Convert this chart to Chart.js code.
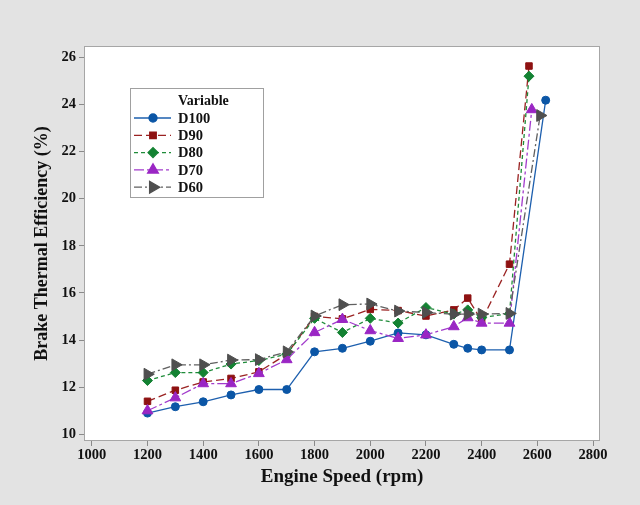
<!DOCTYPE html>
<html>
<head>
<meta charset="utf-8">
<script src="https://cdn.jsdelivr.net/npm/chart.js@4.4.1/dist/chart.umd.min.js"></script>
<style>
  html, body { margin: 0; padding: 0; background: #e3e3e3; }
  #wrap { width: 640px; height: 505px; }
</style>
</head>
<body>
<div id="wrap"><canvas id="bteChart" width="640" height="505"></canvas></div>
<script>
// engine speed (rpm) for each series
const speedsD100 = [1200, 1300, 1400, 1500, 1600, 1700, 1800, 1900, 2000, 2100, 2200, 2300, 2350, 2400, 2500, 2630];
const speedsD90  = [1200, 1300, 1400, 1500, 1600, 1700, 1800, 1900, 2000, 2100, 2200, 2300, 2350, 2400, 2500, 2570];
const speedsD80  = [1200, 1300, 1400, 1500, 1600, 1700, 1800, 1900, 2000, 2100, 2200, 2300, 2350, 2400, 2500, 2570];
const speedsD70  = [1200, 1300, 1400, 1500, 1600, 1700, 1800, 1900, 2000, 2100, 2200, 2300, 2350, 2400, 2500, 2580];
const speedsD60  = [1200, 1300, 1400, 1500, 1600, 1700, 1800, 1900, 2000, 2100, 2200, 2300, 2350, 2400, 2500, 2610];

// brake thermal efficiency (%)
const bteD100 = [10.9, 11.17, 11.38, 11.67, 11.9, 11.9, 13.5, 13.65, 13.95, 14.3, 14.22, 13.82, 13.65, 13.58, 13.58, 24.18];
const bteD90  = [11.4, 11.87, 12.22, 12.37, 12.65, 13.4, 15.0, 14.9, 15.3, 15.25, 15.02, 15.28, 15.78, 14.82, 17.22, 25.63];
const bteD80  = [12.28, 12.62, 12.62, 12.98, 13.13, 13.4, 14.92, 14.32, 14.92, 14.72, 15.38, 15.1, 15.28, 14.95, 15.12, 25.2];
const bteD70  = [11.0, 11.55, 12.15, 12.15, 12.58, 13.17, 14.32, 14.88, 14.4, 14.07, 14.22, 14.57, 14.95, 14.72, 14.72, 23.78];
const bteD60  = [12.55, 12.95, 12.95, 13.15, 13.17, 13.5, 15.02, 15.5, 15.53, 15.23, 15.17, 15.1, 15.1, 15.1, 15.13, 23.53];

const xTicks = [1000, 1200, 1400, 1600, 1800, 2000, 2200, 2400, 2600, 2800];
const yTicks = [10, 12, 14, 16, 18, 20, 22, 24, 26];

const serif = '"Liberation Serif", "Times New Roman", serif';

function toPoints(xs, ys) {
    return xs.map((x, i) => ({ x: x, y: ys[i] }));
}

const series = [
    { label: 'D100', xs: speedsD100, ys: bteD100, color: '#1d5fae', point: '#0b56a6', style: 'circle', radius: 4, rot: 0, dash: [], order: 4 },
    { label: 'D90', xs: speedsD90, ys: bteD90, color: '#9a2222', point: '#8e1212', style: 'rect', radius: 4.6, rot: 0, dash: [8, 4], order: 3 },
    { label: 'D80', xs: speedsD80, ys: bteD80, color: '#1f8c3a', point: '#138232', style: 'rectRot', radius: 5, rot: 0, dash: [4, 3], order: 2 },
    { label: 'D70', xs: speedsD70, ys: bteD70, color: '#a23bcc', point: '#9a26c4', style: 'triangle', radius: 6.2, rot: 0, dash: [10, 3, 3, 3], order: 1 },
    { label: 'D60', xs: speedsD60, ys: bteD60, color: '#606060', point: '#4f4f4f', style: 'triangle', radius: 6.8, rot: 90, dash: [8, 3, 2, 3], order: 0 }
];

// white plot area with grey frame
const frame = {
    id: 'frame',
    beforeDatasetsDraw(chart) {
        const { ctx, chartArea: a } = chart;
        ctx.save();
        ctx.fillStyle = '#ffffff';
        ctx.fillRect(a.left, a.top, a.right - a.left, a.bottom - a.top);
        ctx.restore();
    },
    afterDatasetsDraw(chart) {
        const { ctx, chartArea: a } = chart;
        ctx.save();
        ctx.strokeStyle = '#a6a6a6';
        ctx.lineWidth = 1;
        ctx.strokeRect(a.left + 0.5, a.top + 0.5, a.right - a.left - 1, a.bottom - a.top - 1);
        ctx.restore();
    }
};

// Minitab style legend box inside the plot
const boxLegend = {
    id: 'boxLegend',
    afterDraw(chart) {
        const ctx = chart.ctx;
        const bx = 130, by = 88, bw = 133, bh = 109;
        ctx.save();
        ctx.fillStyle = '#ffffff';
        ctx.fillRect(bx, by, bw, bh);
        ctx.strokeStyle = '#a0a0a0';
        ctx.lineWidth = 1;
        ctx.strokeRect(bx + 0.5, by + 0.5, bw, bh);

        ctx.fillStyle = '#111';
        ctx.textBaseline = 'middle';
        ctx.font = 'bold 14px ' + serif;
        ctx.fillText('Variable', 178, 101);

        ctx.font = 'bold 14.5px ' + serif;
        series.forEach((s, i) => {
            const y = 118 + i * 17.3;
            ctx.strokeStyle = s.color;
            ctx.lineWidth = 1.3;
            ctx.setLineDash(s.dash);
            ctx.beginPath();
            ctx.moveTo(134, y);
            ctx.lineTo(171, y);
            ctx.stroke();
            ctx.setLineDash([]);
            ctx.fillStyle = s.point;
            ctx.strokeStyle = s.point;
            Chart.helpers.drawPoint(ctx, {
                pointStyle: s.style,
                rotation: s.rot,
                radius: s.radius,
                borderWidth: 1
            }, 153, y);
            ctx.fillStyle = '#111';
            ctx.fillText(s.label, 178, y + 1);
        });
        ctx.restore();
    }
};

new Chart(document.getElementById('bteChart'), {
    type: 'line',
    data: {
        datasets: series.map(s => ({
            label: s.label,
            data: toPoints(s.xs, s.ys),
            borderColor: s.color,
            backgroundColor: s.point,
            borderWidth: 1.3,
            borderDash: s.dash,
            pointStyle: s.style,
            pointRotation: s.rot,
            pointRadius: s.radius,
            pointBorderColor: s.point,
            pointBackgroundColor: s.point,
            pointBorderWidth: 1,
            tension: 0,
            order: s.order
        }))
    },
    options: {
        responsive: false,
        animation: false,
        layout: { padding: { left: 0, right: 40, top: 46, bottom: 0 } },
        plugins: {
            legend: { display: false },
            tooltip: { enabled: false }
        },
        scales: {
            x: {
                type: 'linear',
                min: 972,
                max: 2825,
                afterBuildTicks: scale => { scale.ticks = xTicks.map(v => ({ value: v })); },
                afterFit: scale => { scale.height = 64; },
                border: { display: false },
                grid: { drawOnChartArea: false, tickLength: 5, color: '#8a8a8a' },
                ticks: {
                    color: '#111',
                    padding: 1,
                    maxRotation: 0,
                    autoSkip: false,
                    callback: v => String(v),
                    font: { family: serif, size: 14.5, weight: 'bold' }
                },
                title: {
                    display: true,
                    text: 'Engine Speed (rpm)',
                    color: '#111',
                    padding: { top: 0, bottom: 17 },
                    font: { family: serif, size: 19, weight: 'bold' }
                }
            },
            y: {
                type: 'linear',
                min: 9.715,
                max: 26.48,
                afterBuildTicks: scale => { scale.ticks = yTicks.map(v => ({ value: v })); },
                afterFit: scale => { scale.width = 84; },
                border: { display: false },
                grid: { drawOnChartArea: false, tickLength: 5, color: '#8a8a8a' },
                ticks: {
                    color: '#111',
                    padding: 3,
                    autoSkip: false,
                    callback: v => String(v),
                    font: { family: serif, size: 14.5, weight: 'bold' }
                },
                title: {
                    display: true,
                    text: 'Brake Thermal Efficiency (%)',
                    color: '#111',
                    padding: { top: 32, bottom: 0 },
                    font: { family: serif, size: 18, weight: 'bold' }
                }
            }
        }
    },
    plugins: [frame, boxLegend]
});
</script>
</body>
</html>
